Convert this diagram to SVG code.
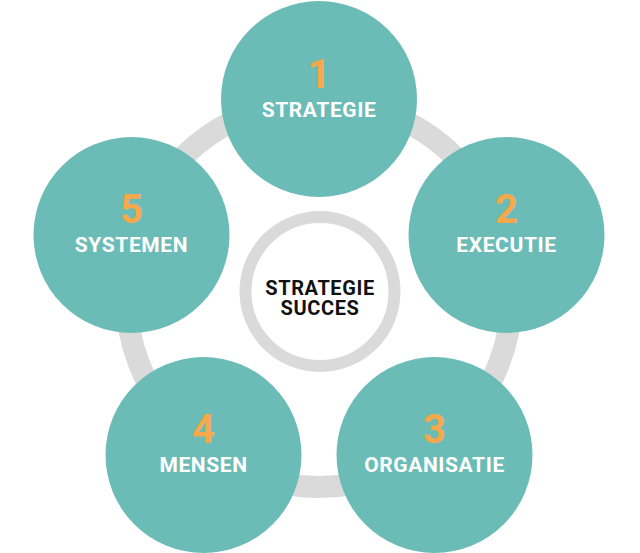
<svg xmlns="http://www.w3.org/2000/svg" width="640" height="553" viewBox="0 0 640 553">
<style>
.node{fill:#6BBCB6}
.num{font-family:Roboto,"Liberation Sans",sans-serif;font-weight:700;font-size:40px;fill:#F5A94B;text-anchor:middle}
.lbl{font-family:Roboto,"Liberation Sans",sans-serif;font-weight:700;font-size:21px;letter-spacing:0.6px;fill:#FFFFFF;text-anchor:middle}
.ctr{font-family:Roboto,"Liberation Sans",sans-serif;font-weight:700;font-size:20px;letter-spacing:0.6px;fill:#111111;text-anchor:middle}
.ring{fill:none;stroke:#DADADA}
</style>
<rect width="640" height="553" fill="#FFFFFF"/>
<g id="connectors">
<circle class="ring" cx="319" cy="294" r="193" stroke-width="22"/>
</g>
<g id="center">
<circle class="ring" cx="320" cy="291.5" r="74.5" stroke-width="12" fill="#FFFFFF"/>
<text class="ctr" x="320" y="295">STRATEGIE</text>
<text class="ctr" x="320" y="315">SUCCES</text>
</g>
<g id="node1">
<circle class="node" cx="319" cy="99" r="98"/>
<text class="num" x="319" y="88">1</text>
<text class="lbl" x="319" y="117">STRATEGIE</text>
</g>
<g id="node2">
<circle class="node" cx="506.5" cy="235" r="98"/>
<text class="num" x="506.5" y="223">2</text>
<text class="lbl" x="506.5" y="252">EXECUTIE</text>
</g>
<g id="node3">
<circle class="node" cx="434.5" cy="455" r="98"/>
<text class="num" x="434.5" y="443">3</text>
<text class="lbl" x="434.5" y="472">ORGANISATIE</text>
</g>
<g id="node4">
<circle class="node" cx="203.5" cy="455" r="98"/>
<text class="num" x="203.5" y="443">4</text>
<text class="lbl" x="203.5" y="472">MENSEN</text>
</g>
<g id="node5">
<circle class="node" cx="131.5" cy="235" r="98"/>
<text class="num" x="131.5" y="223">5</text>
<text class="lbl" x="131.5" y="252">SYSTEMEN</text>
</g>
</svg>
